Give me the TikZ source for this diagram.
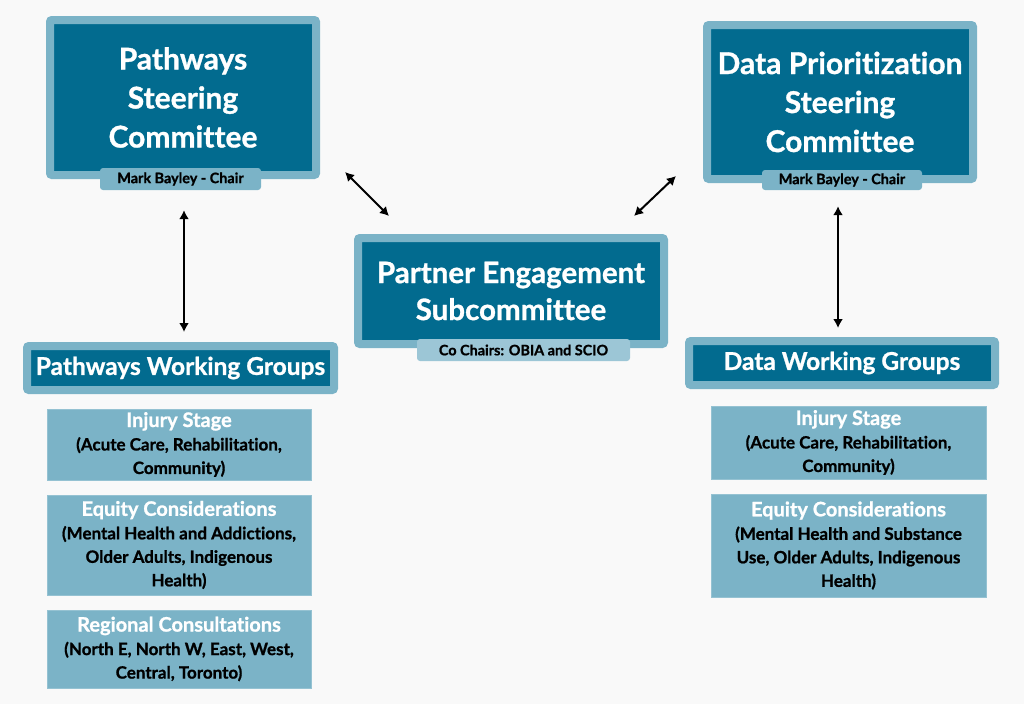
\documentclass[tikz,border=0pt]{standalone}
\usepackage{fontspec}
\setmainfont{Lato}[Ligatures=NoCommon,BoldFeatures={FakeBold=1}]
\usetikzlibrary{arrows.meta,positioning,calc}
\definecolor{deep}{HTML}{026B8F}
\definecolor{frame}{HTML}{7BB3C7}
\definecolor{pale}{HTML}{9CC6D6}
\definecolor{canvas}{HTML}{F9F9F9}
\newcommand\grouphead[1]{\textcolor{white}{\fontsize{20}{23}\selectfont #1}}

\begin{document}
\begin{tikzpicture}[x=1pt,y=-1pt,
  cmte/.style={fill=deep,draw=frame,line width=8pt,rounded corners=2pt,text=white,align=center,font=\fontsize{30}{39}\selectfont\bfseries},
  chair/.style={fill=frame,rounded corners=3pt,inner sep=0pt,font=\fontsize{14.4}{16}\selectfont\bfseries},
  sub/.style={fill=frame,draw=frame!80!white,line width=.6pt,minimum width=264pt,align=center,inner sep=0pt,font=\fontsize{17}{23.5}\selectfont\bfseries},
  link/.style={{Latex[length=9pt,width=10pt]}-{Latex[length=9pt,width=10pt]},line width=2pt,black}]
  \fill[canvas] (0,0) rectangle (1024,704);
  % steering committees
  \node[cmte,minimum width=266pt,minimum height=155pt] (pathsc) at (183,97.5) {Pathways\\Steering\\Committee};
  \node[chair,minimum width=161pt,minimum height=22pt] (pathchair) at (180.5,179) {Mark Bayley - Chair};
  \node[cmte,minimum width=266pt,minimum height=154pt] (datasc) at (840,102) {Data Prioritization\\Steering\\Committee};
  \node[chair,minimum width=160pt,minimum height=20pt] (datachair) at (842,180) {Mark Bayley - Chair};
  % subcommittee
  \node[cmte,font=\fontsize{29.5}{37}\selectfont\bfseries,minimum width=306pt,minimum height=106pt] (partner) at (511,291) {Partner Engagement\\Subcommittee};
  \node[chair,fill=pale,minimum width=213pt,minimum height=22pt] (cochair) at (523.5,350) {Co Chairs: OBIA and SCIO};
  % working groups
  \node[cmte,font=\fontsize{24.5}{28}\selectfont\bfseries,minimum width=307pt,minimum height=44pt] (pathwg) at (180.5,368) {Pathways Working Groups};
  \node[cmte,font=\fontsize{24.5}{28}\selectfont\bfseries,minimum width=306pt,minimum height=44pt] (datawg) at (842,363) {Data Working Groups};
  \node[sub,minimum height=71pt] (pinjury) at (179,444.5) {\grouphead{Injury Stage}\\(Acute Care, Rehabilitation,\\Community)};
  \node[sub,minimum height=100pt] (pequity) at (179,545) {\grouphead{Equity Considerations}\\(Mental Health and Addictions,\\Older Adults, Indigenous\\Health)};
  \node[sub,minimum height=78pt] (pregion) at (179,649) {\grouphead{Regional Consultations}\\(North E, North W, East, West,\\Central, Toronto)};
  \node[sub,minimum width=275pt,minimum height=73pt] (dinjury) at (848.5,442.5) {\grouphead{Injury Stage}\\(Acute Care, Rehabilitation,\\Community)};
  \node[sub,minimum width=275pt,minimum height=103pt] (dequity) at (848.5,545.5) {\grouphead{Equity Considerations}\\(Mental Health and Substance\\Use, Older Adults, Indigenous\\Health)};
  % links
  \draw[link] ([shift={(3.5,20)}]pathchair.south) -- ([shift={(3.5,-10)}]pathwg.north);
  \draw[link] ([shift={(-4,16)}]datachair.south) -- ([shift={(-4,-9)}]datawg.north);
  \draw[link] ([shift={(25,-7)}]pathsc.south east) -- ([shift={(35,-18)}]partner.north west);
  \draw[link] ([shift={(-27,-7)}]datasc.south west) -- ([shift={(-34,-18)}]partner.north east);
\end{tikzpicture}
\end{document}
